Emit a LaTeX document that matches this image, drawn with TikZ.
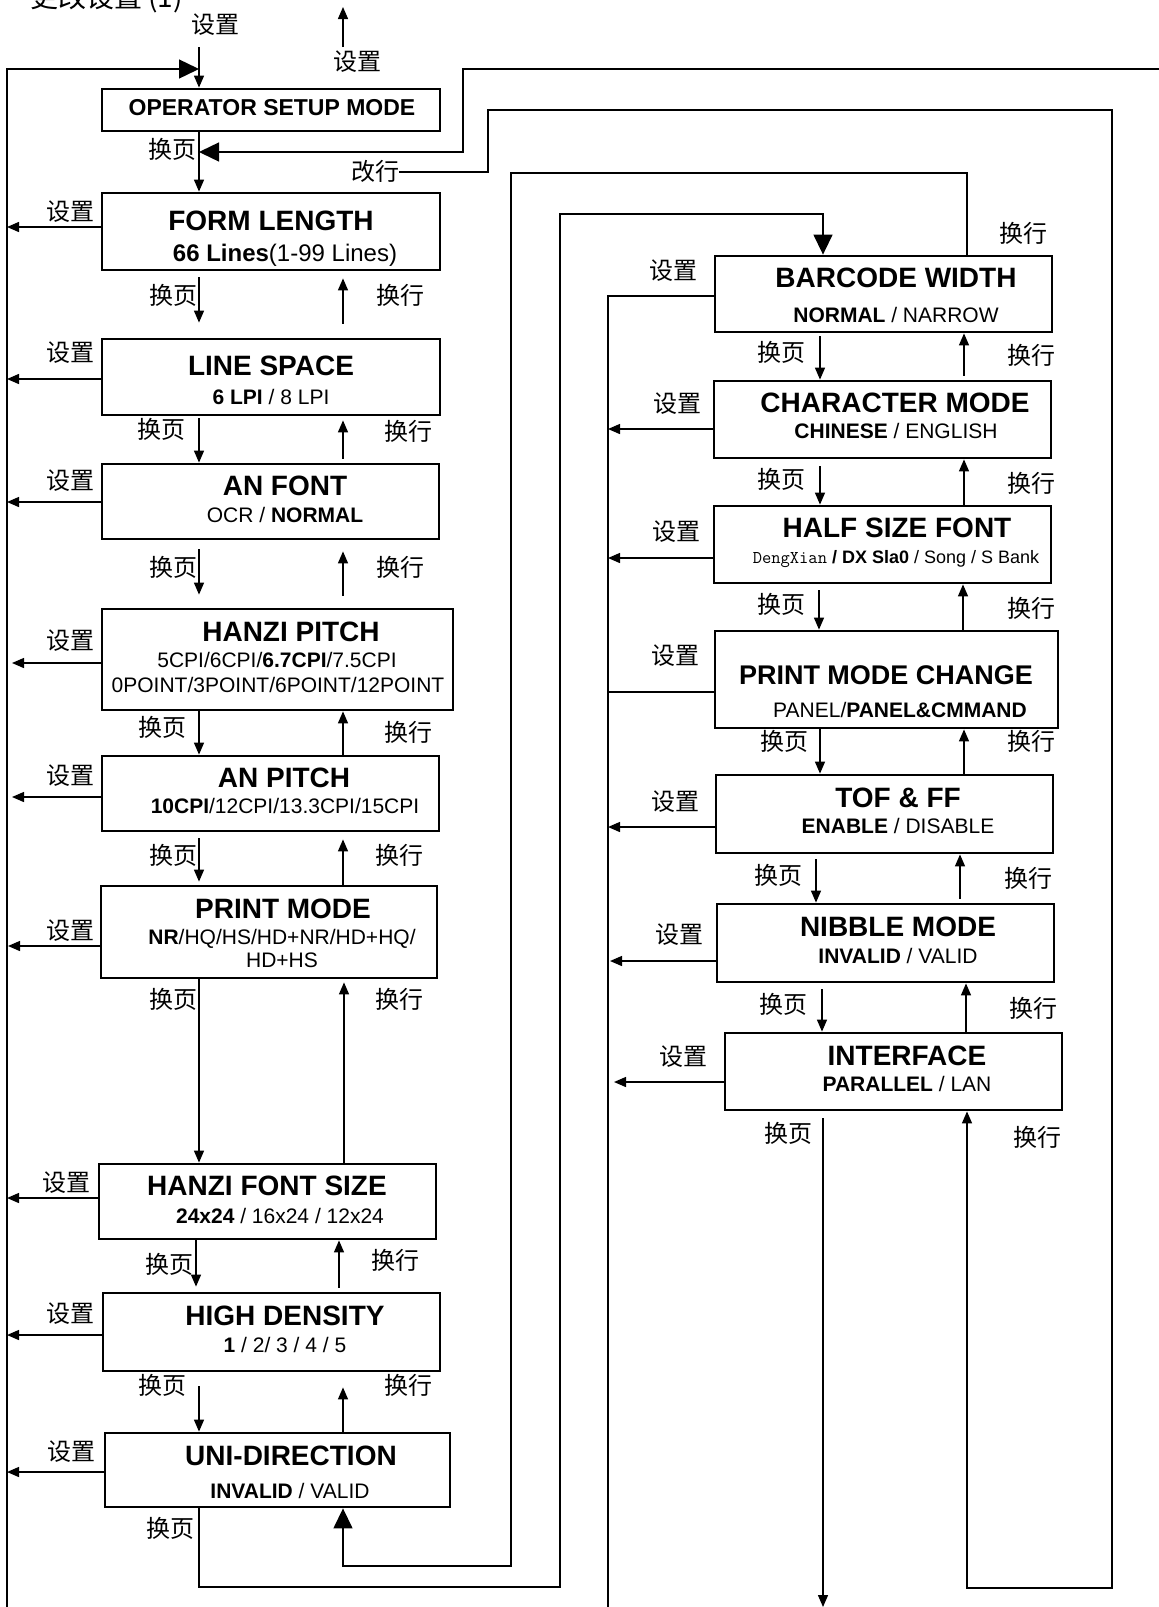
\documentclass[tikz,border=0pt]{standalone}
\usepackage{fontspec}
\setmainfont{Liberation Sans}
\newfontfamily\cjk{Noto Sans CJK SC}
\usetikzlibrary{arrows.meta}

\tikzset{
  stage/.style={draw, line width=2.8pt, inner sep=0pt},
  ttl/.style={anchor=base, inner sep=0pt, font=\fontsize{28}{30}\selectfont\bfseries},
  opt/.style={anchor=base, inner sep=0pt, font=\fontsize{21}{24}\selectfont},
  key/.style={inner sep=0pt, font=\cjk\fontsize{24}{26}\selectfont},
  wire/.style={line width=1.4pt},
  arr/.style={wire, -{Triangle[length=12pt, width=10pt]}},
  bigarr/.style={wire, -{Triangle[length=20pt, width=19pt]}},
}

\begin{document}
\begin{tikzpicture}[x=1pt, y=-1pt]
  \useasboundingbox (0,0) rectangle (1159,1607);
  \coordinate (bot) at (0,1607);
  \coordinate (Lbus) at (7,0);
  \coordinate (Rbus) at (608,0);

  % left column
  \node[stage, minimum width=338, minimum height=42] (op) at (271,110) {};
  \node[stage, minimum width=338, minimum height=77] (fl) at (271,231.5) {};
  \node[stage, minimum width=338, minimum height=76] (ls) at (271,377) {};
  \node[stage, minimum width=337, minimum height=75] (af) at (270.5,501.5) {};
  \node[stage, minimum width=351, minimum height=101] (hp) at (277.5,659.5) {};
  \node[stage, minimum width=337, minimum height=75] (ap) at (270.5,793.5) {};
  \node[stage, minimum width=336, minimum height=92] (pm) at (269,932) {};
  \node[stage, minimum width=337, minimum height=75] (hfs) at (267.5,1201.5) {};
  \node[stage, minimum width=337, minimum height=78] (hd) at (271.5,1332) {};
  \node[stage, minimum width=345, minimum height=74] (ud) at (277.5,1470) {};
  % right column
  \node[stage, minimum width=337, minimum height=76] (bw) at (883.5,294) {};
  \node[stage, minimum width=337, minimum height=77] (cm) at (882.5,419.5) {};
  \node[stage, minimum width=337, minimum height=77] (hsf) at (882.5,544.5) {};
  \node[stage, minimum width=343, minimum height=97] (pmc) at (886.5,679.5) {};
  \node[stage, minimum width=337, minimum height=78] (tof) at (884.5,814) {};
  \node[stage, minimum width=337, minimum height=78] (nm) at (885.5,943) {};
  \node[stage, minimum width=337, minimum height=77] (itf) at (893.5,1071.5) {};

  \node[ttl, font=\fontsize{23}{25}\selectfont\bfseries] (op-t) at (272,115) {OPERATOR SETUP MODE};
  \node[ttl] (fl-t) at (271,230) {FORM LENGTH};
  \node[opt, font=\fontsize{24}{26}\selectfont] (fl-s) at (285,261) {\textbf{66 Lines}(1-99 Lines)};
  \node[ttl] (ls-t) at (271,375) {LINE SPACE};
  \node[opt] (ls-s) at (271,404) {\textbf{6 LPI} / 8 LPI};
  \node[ttl] (af-t) at (285,495) {AN FONT};
  \node[opt] (af-s) at (285,522) {OCR / \textbf{NORMAL}};
  \node[ttl] (hp-t) at (291,641) {HANZI PITCH};
  \node[opt] (hp-s) at (277,667) {5CPI/6CPI/\textbf{6.7CPI}/7.5CPI};
  \node[opt] (hp-s2) at (278,692) {0POINT/3POINT/6POINT/12POINT};
  \node[ttl] (ap-t) at (284,787) {AN PITCH};
  \node[opt] (ap-s) at (285,813) {\textbf{10CPI}/12CPI/13.3CPI/15CPI};
  \node[ttl] (pm-t) at (283,918) {PRINT MODE};
  \node[opt] (pm-s) at (282,944) {\textbf{NR}/HQ/HS/HD+NR/HD+HQ/};
  \node[opt] (pm-s2) at (282,967) {HD+HS};
  \node[ttl] (hfs-t) at (267,1195) {HANZI FONT SIZE};
  \node[opt] (hfs-s) at (280,1223) {\textbf{24x24} / 16x24 / 12x24};
  \node[ttl] (hd-t) at (285,1325) {HIGH DENSITY};
  \node[opt] (hd-s) at (285,1352) {\textbf{1} / 2/ 3 / 4 / 5};
  \node[ttl] (ud-t) at (291,1465) {UNI-DIRECTION};
  \node[opt] (ud-s) at (290,1498) {\textbf{INVALID} / VALID};
  \node[ttl] (bw-t) at (896,287) {BARCODE WIDTH};
  \node[opt] (bw-s) at (896,322) {\textbf{NORMAL} / NARROW};
  \node[ttl] (cm-t) at (895,412) {CHARACTER MODE};
  \node[opt] (cm-s) at (896,438) {\textbf{CHINESE} / ENGLISH};
  \node[ttl] (hsf-t) at (897,537) {HALF SIZE FONT};
  \node[opt, font=\fontsize{18}{20}\selectfont] (hsf-s) at (896,563) {{\ttfamily DengXian} \textbf{/ DX Sla0} / Song / S Bank};
  \node[ttl, font=\fontsize{27}{29}\selectfont\bfseries] (pmc-t) at (886,684) {PRINT MODE CHANGE};
  \node[opt] (pmc-s) at (900,717) {PANEL/\textbf{PANEL\&CMMAND}};
  \node[ttl] (tof-t) at (898,807) {TOF \& FF};
  \node[opt] (tof-s) at (898,833) {\textbf{ENABLE} / DISABLE};
  \node[ttl] (nm-t) at (898,936) {NIBBLE MODE};
  \node[opt] (nm-s) at (898,963) {\textbf{INVALID} / VALID};
  \node[ttl] (itf-t) at (907,1065) {INTERFACE};
  \node[opt] (itf-s) at (907,1091) {\textbf{PARALLEL} / LAN};

  % labels
  \node[anchor=base west, inner sep=0pt, font=\cjk\fontsize{28}{30}\selectfont] (title) at (30,7) {更改设置 (1)};
  \node[key] (set-in) at (215,25) {设置};
  \node[key] (set-out) at (357,62) {设置};
  \node[key] (gh) at (375,171) {改行};
  \foreach \n/\x/\y in {fl/70/212, ls/70/353, af/70/481, hp/70/641, ap/70/776, pm/70/931, hfs/66/1183, hd/70/1314, ud/71/1452,
      bw/673/271, cm/677/404, hsf/676/532, pmc/675/656, tof/675/802, nm/679/935, itf/683/1057}
    \node[key] (set-\n) at (\x,\y) {设置};
  \foreach \n/\x/\y in {op/172/149, fl/173/295, ls/161/429, af/173/567, hp/162/727, ap/173/855, pm/173/999, hfs/169/1264, hd/162/1385, ud/170/1528,
      bw/781/352, cm/781/479, hsf/781/604, pmc/784/741, tof/778/875, nm/783/1004, itf/788/1133}
    \node[key] (pg-\n) at (\x,\y) {换页};
  \foreach \n/\x/\y in {fl/400/295, ls/408/431, af/400/567, hp/408/732, ap/399/855, pm/399/999, hfs/395/1260, hd/408/1385,
      bwtop/1023/233, bw/1031/355, cm/1031/483, hsf/1031/608, pmc/1031/741, tof/1028/878, nm/1033/1008, itf/1037/1137}
    \node[key] (ln-\n) at (\x,\y) {换行};

  % 换页 / 换行 between stages
  \foreach \a/\b/\x/\s/\e in {op/fl/199/0/0, fl/ls/199/6/15, ls/af/199/2/0, af/hp/199/9/13, hp/ap/199/0/0, ap/pm/199/6/3,
      pm/hfs/199/0/0, hfs/hd/196/0/5, hd/ud/199/14/0, bw/cm/820/3/0, cm/hsf/820/7/0, hsf/pmc/819/6/0,
      pmc/tof/820/0/0, tof/nm/816/5/0, nm/itf/822/6/0}
    \draw[arr, shorten <=\s pt, shorten >=\e pt] (\a.south -| \x,0) -- (\b.north -| \x,0);
  \foreach \a/\b/\x/\s/\e in {fl/ls/343/14/7, ls/af/343/4/4, af/hp/343/12/11, hp/ap/343/0/0, ap/pm/343/0/7, pm/hfs/344/0/3,
      hfs/hd/339/4/0, hd/ud/343/0/15, bw/cm/964/4/0, cm/hsf/964/0/0, hsf/pmc/963/0/0, pmc/tof/964/0/0,
      tof/nm/960/4/0, nm/itf/966/0/0}
    \draw[arr, shorten <=\s pt, shorten >=\e pt] (\b.north -| \x,0) -- (\a.south -| \x,0);

  % 设置 to the buses
  \foreach \n/\y/\s in {fl/227/0, ls/379/0, af/502/0, hp/663/5, ap/797/5, pm/946/1, hfs/1198/0, hd/1335/0, ud/1472/0}
    \draw[arr, shorten >=\s pt] (\n.west |- 0,\y) -- (Lbus |- 0,\y);
  \foreach \n/\y/\s in {cm/429/0, hsf/558/0, tof/827/0, nm/961/2, itf/1082/6}
    \draw[arr, shorten >=\s pt] (\n.west |- 0,\y) -- (Rbus |- 0,\y);
  \draw[wire] (pmc.west |- 0,692) -- (Rbus |- 0,692);
  \draw[wire] (bw.west |- 0,296) -- (Rbus |- 0,296) -- (Rbus |- bot);

  % top entry and exit
  \coordinate (in-top) at (199,47);
  \coordinate (out-top) at (343,47);
  \coordinate (out-end) at (343,7);
  \coordinate (jn) at (199,69);
  \coordinate (ff) at (199,152);
  \coordinate (fromR) at (1159,69);
  \draw[arr] (in-top) -- (op.north -| in-top);
  \draw[arr] (out-top) -- (out-end);
  \draw[bigarr] (Lbus |- bot) -- (Lbus |- jn) -- (jn);
  \draw[bigarr] (fromR) -- ++(-696,0) -- ++(0,83) -- (ff);

  % long returns
  \draw[arr] (gh.east |- 0,172) -| (488,110) -| (1112,1588) -| (itf.south -| 967,0);
  \draw[bigarr] (bw.north -| 967,0) |- (511,173) |- (343,1566) -- (ud.south -| 343,0);
  \draw[bigarr] (ud.south -| 199,0) |- (560,1587) |- (823,214) -- (bw.north -| 823,0);
  \draw[arr, shorten <=7pt] (itf.south -| 823,0) -- (bot -| 823,0);
\end{tikzpicture}
\end{document}
